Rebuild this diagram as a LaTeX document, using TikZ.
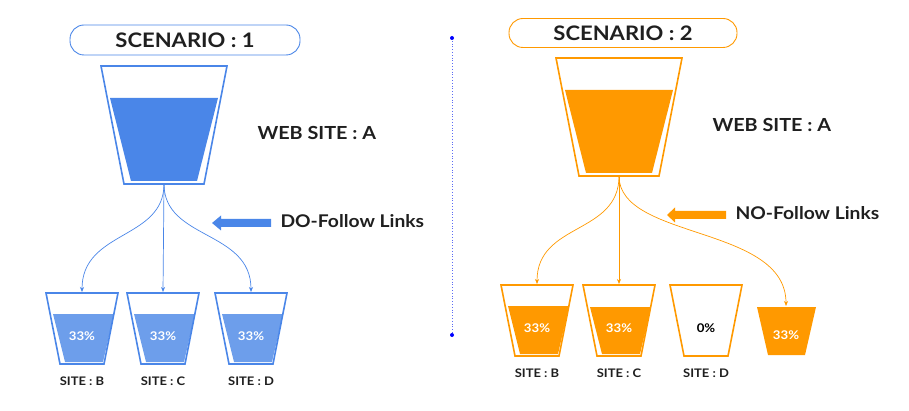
\documentclass[tikz,border=0pt]{standalone}
\usepackage{fontspec}
\setmainfont{Lato}[FakeStretch=1.1]
\usetikzlibrary{arrows.meta}
\definecolor{cblue}{HTML}{4A86E8}
\definecolor{clblue}{HTML}{6D9EEB}
\definecolor{corange}{HTML}{FF9900}
\definecolor{cdot}{HTML}{5B6BF5}
\tikzset{
  pill/.style={rounded corners=14pt, line width=0.9pt, fill=white},
  cupline/.style={line width=1.6pt, line join=miter},
  conn/.style={line width=0.7pt, -{Stealth[length=5pt,width=4pt]}},
  title/.style={font=\bfseries\fontsize{20}{21}\selectfont, text=black!88},
  big/.style={font=\bfseries\fontsize{18}{19}\selectfont, text=black!88},
  follow/.style={font=\bfseries\fontsize{17.5}{19}\selectfont, text=black!88},
  site/.style={font=\bfseries\fontsize{11.8}{13}\selectfont, text=black!88},
  pct/.style={font=\bfseries\fontsize{12}{13}\selectfont, text=white},
}
% small cup: #1 centre x, #2 top y, #3 line colour, #4 fill colour, #5 fill top offset
\newcommand\mysmallcup[5]{%
  \fill[#4] (#1-29,#2+#5) -- (#1+32,#2+#5) -- (#1+21,#2+69) -- (#1-17,#2+69) -- cycle;
  \draw[cupline,#3] (#1-36,#2) -- (#1+36,#2) -- (#1+22,#2+71) -- (#1-22,#2+71) -- cycle;
}
% big cup: #1 centre x, #2 top y, #3 colour
\newcommand\mybigcup[3]{%
  \fill[#3] (#1-54,#2+32) -- (#1+54,#2+32) -- (#1+33,#2+115) -- (#1-33,#2+115) -- cycle;
  \draw[cupline,#3] (#1-63,#2) -- (#1+63,#2) -- (#1+40,#2+118) -- (#1-40,#2+118) -- cycle;
}
\begin{document}
\begin{tikzpicture}[x=1pt,y=-1pt]
\useasboundingbox (0,0) rectangle (909,411);
% ---------- Scenario 1 ----------
\node[pill, draw=cblue, minimum width=230pt, minimum height=30pt, title] (t1) at (185,40) {SCENARIO : 1};
\mybigcup{164}{66}{cblue}
\coordinate (a1) at (164,184);
\node[big, anchor=west] (w1) at (254,133) {WEB SITE : A};
\fill[cblue] (271,219) -- (221,219) -- (221,215.5) -- (212,223) -- (221,230.5) -- (221,227) -- (271,227) -- cycle;
\node[follow, anchor=west] (d1) at (277,221) {DO-Follow Links};

\mysmallcup{82}{293}{cblue}{clblue}{21}
\mysmallcup{163}{293}{cblue}{clblue}{21}
\mysmallcup{251}{293}{cblue}{clblue}{21}
\coordinate (b1) at (82,292);
\coordinate (c1) at (163,292);
\coordinate (e1) at (251,292);
\draw[conn, cblue] (a1) .. controls (164,240) and (82,230) .. (b1);
\draw[conn, cblue] (a1) -- (c1);
\draw[conn, cblue] (a1) .. controls (164,240) and (251,230) .. (e1);
\node[pct] (pb1) at (82,336) {33\%};
\node[pct] (pc1) at (163,336) {33\%};
\node[pct] (pd1) at (251,336) {33\%};
\node[site] (sb1) at (82,381) {SITE : B};
\node[site] (sc1) at (163,381) {SITE : C};
\node[site] (sd1) at (251,381) {SITE : D};

% ---------- separator ----------
\coordinate (s1) at (452,38);
\coordinate (s2) at (452,335);
\draw[cdot, dotted, line width=0.8pt] (s1) -- (s2);
\fill[blue] (s1) circle (2pt);
\fill[blue] (s2) circle (2pt);

% ---------- Scenario 2 ----------
\node[pill, draw=corange, minimum width=228pt, minimum height=29pt, title] (t2) at (623,33) {SCENARIO : 2};
\mybigcup{619}{58}{corange}
\coordinate (a2) at (619,176);
\node[big, anchor=west] (w2) at (709,125) {WEB SITE : A};
\fill[corange] (726,211) -- (675,211) -- (675,207.5) -- (667,215) -- (675,222.5) -- (675,219) -- (726,219) -- cycle;
\node[follow, anchor=west] (d2) at (732,213) {NO-Follow Links};

\mysmallcup{537}{285}{corange}{corange}{21}
\mysmallcup{619}{285}{corange}{corange}{22}
\draw[cupline,corange] (706-36,285) -- (706+36,285) -- (706+22,356) -- (706-22,356) -- cycle;
\fill[corange] (757,307) -- (816,307) -- (805,355) -- (768,355) -- cycle;
\coordinate (b2) at (537,284);
\coordinate (c2) at (619,284);
\coordinate (e2) at (786,306);
\draw[conn, corange] (a2) .. controls (619,235) and (537,222) .. (b2);
\draw[conn, corange] (a2) -- (c2);
\draw[conn, corange] (a2) .. controls (619,240) and (786,225) .. (e2);
\node[pct] (pb2) at (537,328) {33\%};
\node[pct] (pc2) at (619,328) {33\%};
\node[pct, text=black] (pd2) at (706,328) {0\%};
\node[pct] (pe2) at (786,335) {33\%};
\node[site] (sb2) at (537,373) {SITE : B};
\node[site] (sc2) at (619,373) {SITE : C};
\node[site] (sd2) at (706,373) {SITE : D};
\end{tikzpicture}
\end{document}
